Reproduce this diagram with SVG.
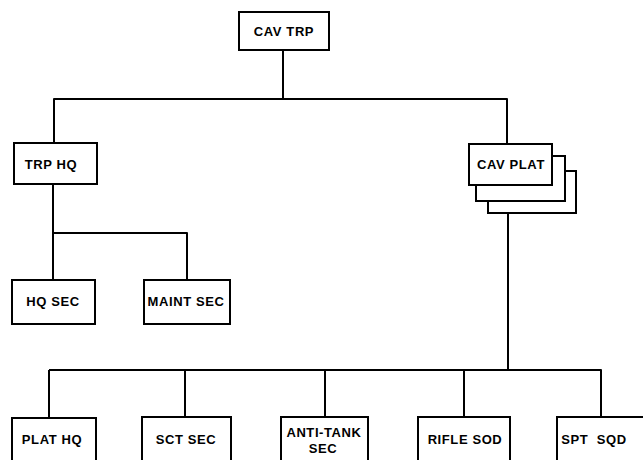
<svg xmlns="http://www.w3.org/2000/svg" width="643" height="460" viewBox="0 0 643 460">
<style>
.box{fill:#fff;stroke:#000;stroke-width:2}
.ln{fill:none;stroke:#000;stroke-width:2;stroke-linejoin:round}
text{font-family:"Liberation Sans",Arial,sans-serif;font-weight:bold;font-size:13px;letter-spacing:0.6px;text-anchor:middle;fill:#000}
</style>
<rect width="643" height="460" fill="#fff"/>
<g id="connectors">
<path class="ln" d="M283 50V99M54 143V99H507V144"/>
<path class="ln" d="M53 184V233H187V280M53 233V280"/>
<path class="ln" d="M508 213V370M49 370H601V417M49 370V418M185 370V417M325 370V417M464 370V417"/>
</g>
<g id="cav-trp"><rect class="box" x="239" y="12" width="90" height="38"/><text x="284" y="36">CAV TRP</text></g>
<g id="trp-hq"><rect class="box" x="14" y="143" width="83" height="41"/><text x="51" y="169">TRP HQ</text></g>
<g id="cav-plat">
<rect class="box" x="488" y="171" width="88" height="42"/>
<rect class="box" x="476" y="156" width="89" height="45"/>
<rect class="box" x="469" y="144" width="83" height="41"/>
<text x="511" y="169">CAV PLAT</text></g>
<g id="hq-sec"><rect class="box" x="12" y="280" width="83" height="44"/><text x="53" y="306">HQ SEC</text></g>
<g id="maint-sec"><rect class="box" x="144" y="280" width="86" height="44"/><text x="186" y="306">MAINT SEC</text></g>
<g id="plat-hq"><rect class="box" x="12" y="418" width="84" height="60"/><text x="52" y="444">PLAT HQ</text></g>
<g id="sct-sec"><rect class="box" x="142" y="417" width="89" height="60"/><text x="186" y="444">SCT SEC</text></g>
<g id="anti-tank-sec"><rect class="box" x="281" y="417" width="87" height="60"/><text x="324" y="437">ANTI-TANK</text><text x="323" y="453">SEC</text></g>
<g id="rifle-sod"><rect class="box" x="418" y="417" width="92" height="60"/><text x="465" y="444">RIFLE SOD</text></g>
<g id="spt-sqd"><rect class="box" x="557" y="417" width="100" height="60"/><text x="594" y="444" xml:space="preserve">SPT  SQD</text></g>
</svg>
